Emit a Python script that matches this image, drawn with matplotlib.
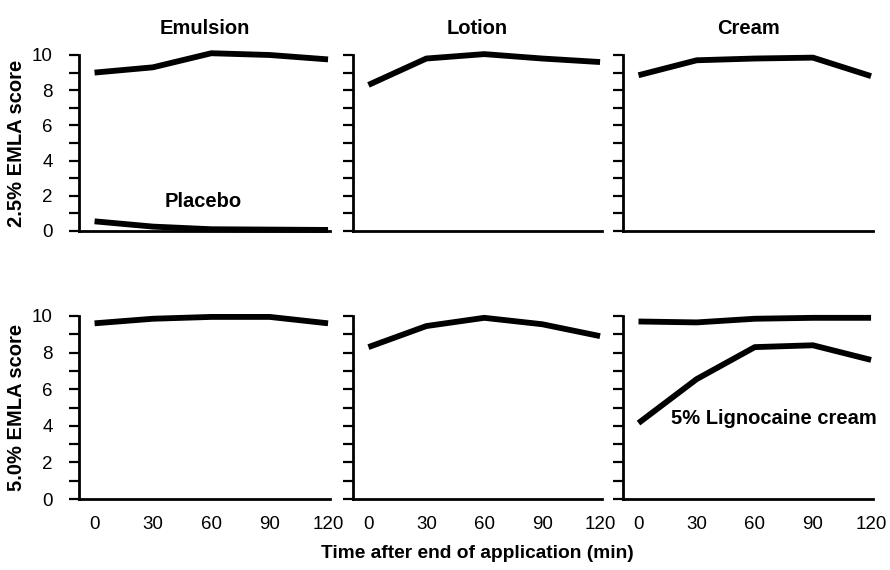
import matplotlib
matplotlib.use("Agg")
import matplotlib.pyplot as plt

plt.rcParams["font.family"] = ["Liberation Sans", "DejaVu Sans"]

# --- data ---
time_min = [0, 30, 60, 90, 120]
columns = ["Emulsion", "Lotion", "Cream"]
row_labels = ["2.5% EMLA score", "5.0% EMLA score"]

emla25 = {
    "Emulsion": [9.0, 9.3, 10.1, 10.0, 9.75],
    "Lotion": [8.3, 9.8, 10.05, 9.8, 9.6],
    "Cream": [8.85, 9.7, 9.8, 9.85, 8.8],
}
placebo = [0.55, 0.25, 0.1, 0.08, 0.06]

emla50 = {
    "Emulsion": [9.6, 9.85, 9.95, 9.95, 9.6],
    "Lotion": [8.3, 9.45, 9.9, 9.55, 8.9],
    "Cream": [9.7, 9.65, 9.85, 9.9, 9.9],
}
lignocaine = [4.15, 6.55, 8.3, 8.4, 7.6]

W, H = 890, 570
lefts = [79, 353, 623]
rights = [330, 602, 873]
rows_px = [(55, 231), (316, 499)]  # (top, bottom) in pixels

fig = plt.figure(figsize=(W / 100, H / 100), dpi=100)
LW = 4.2
axes = {}
for r, (top, bot) in enumerate(rows_px):
    for c, name in enumerate(columns):
        ax = fig.add_axes([lefts[c] / W, 1 - bot / H,
                           (rights[c] - lefts[c]) / W, (bot - top) / H])
        axes[(r, c)] = ax
        data = emla25 if r == 0 else emla50
        ax.plot(time_min, data[name], color="black", lw=LW,
                solid_capstyle="butt", clip_on=False)
        ax.set_xlim(-8, 121)
        ax.set_ylim(0, 10)
        for s in ("top", "right"):
            ax.spines[s].set_visible(False)
        for s in ("left", "bottom"):
            ax.spines[s].set_linewidth(2.0)
        ax.set_yticks(range(11))
        if c == 0:
            ax.set_yticklabels([str(v) if v % 2 == 0 else "" for v in range(11)])
        else:
            ax.set_yticklabels([])
        ax.tick_params(axis="y", direction="out", length=7, width=1.6,
                       pad=12, labelsize=13.5)
        if r == 1:
            ax.set_xticks(time_min)
            ax.set_xticklabels([str(t) for t in time_min])
            ax.tick_params(axis="x", length=0, pad=12, labelsize=13.5)
        else:
            ax.set_xticks([])
            ax.set_title(name, fontsize=14.5, fontweight="bold", pad=15)

axes[(0, 0)].plot(time_min, placebo, color="black", lw=LW,
                  solid_capstyle="butt", clip_on=False)
axes[(0, 0)].text(56, 1.65, "Placebo", ha="center", va="center",
                  fontsize=14.5, fontweight="bold")

axes[(1, 2)].plot(time_min, lignocaine, color="black", lw=LW,
                  solid_capstyle="butt", clip_on=False)
axes[(1, 2)].text(17, 4.4, "5% Lignocaine cream", ha="left", va="center",
                  fontsize=14.5, fontweight="bold", clip_on=False)

for r, (top, bot) in enumerate(rows_px):
    fig.text(17 / W, 1 - (top + bot) / 2 / H, row_labels[r], rotation=90,
             ha="center", va="center", fontsize=14.5, fontweight="bold")

fig.text(477 / W, 1 - 553 / H, "Time after end of application (min)",
         ha="center", va="center", fontsize=13.8, fontweight="bold")

fig.savefig("out.png", dpi=100)
